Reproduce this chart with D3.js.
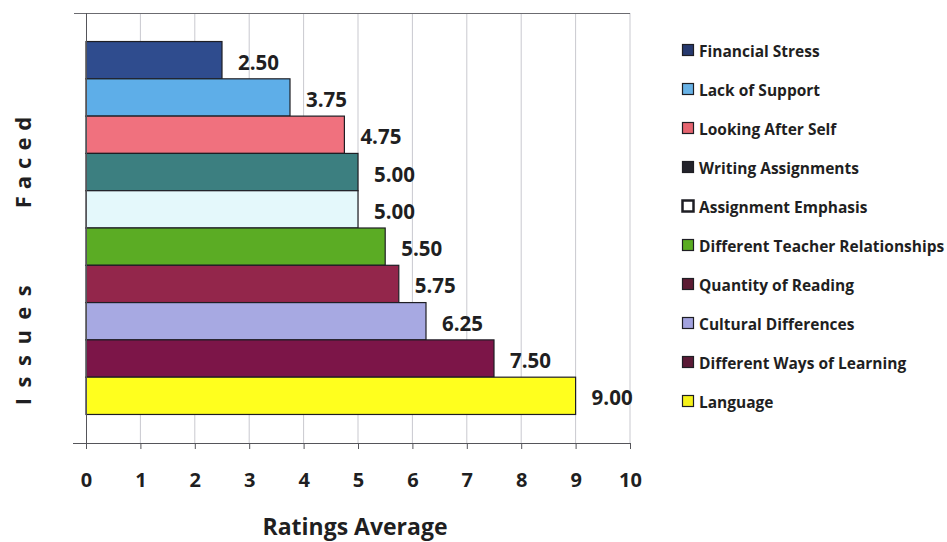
<!DOCTYPE html>
<html>
<head>
<meta charset="utf-8">
<script src="https://cdn.jsdelivr.net/npm/d3@7"></script>
<style>
  html, body { margin: 0; padding: 0; background: #fff; }
  svg { display: block; font-family: "Open Sans", Lato, sans-serif; }
</style>
</head>
<body>
<svg id="chart" width="947" height="542"></svg>
<script>
// Issues faced, ordered top to bottom as the bars are stacked
const issues = [
  "Financial Stress",
  "Lack of Support",
  "Looking After Self",
  "Writing Assignments",
  "Assignment Emphasis",
  "Different Teacher Relationships",
  "Quantity of Reading",
  "Cultural Differences",
  "Different Ways of Learning",
  "Language"
];
const ratings = [2.5, 3.75, 4.75, 5.0, 5.0, 5.5, 5.75, 6.25, 7.5, 9.0];
const barColors = [
  "#2f4c8e", "#5eaee8", "#f0717e", "#3c7f80", "#e4f8fb",
  "#5bac24", "#93264b", "#a7a9e2", "#7c1548", "#ffff1e"
];
const legendSwatch = [
  "#26396e", "#68b2e6", "#e5646f", "#23232b", "#ffffff",
  "#5aac22", "#5b1b33", "#a2a2de", "#5a1a36", "#f6f21a"
];
const xTicks = [0, 1, 2, 3, 4, 5, 6, 7, 8, 9, 10];
const xTitle = "Ratings Average";
const yTitleWords = ["Issues", "Faced"];

const svg = d3.select("#chart");
const plot = { left: 86, right: 630, top: 13, bottom: 443 };
const ink = "#1f1f22";

const x = d3.scaleLinear().domain([0, 10]).range([plot.left, plot.right]);
const y = d3.scaleBand()
  .domain(issues)
  .range([plot.top, plot.bottom])
  .paddingInner(0)
  .paddingOuter(0.765);

// vertical gridlines
svg.append("g")
  .selectAll("line")
  .data(xTicks.filter(t => t > 0))
  .join("line")
  .attr("x1", d => x(d)).attr("x2", d => x(d))
  .attr("y1", plot.top).attr("y2", plot.bottom)
  .attr("stroke", "#c9c9cf")
  .attr("stroke-width", 1);

// top boundary line with its outer tick
svg.append("line")
  .attr("x1", plot.left - 12).attr("x2", plot.right)
  .attr("y1", plot.top + 0.5).attr("y2", plot.top + 0.5)
  .attr("stroke", "#6b6b70").attr("stroke-width", 1);

// bars
svg.append("g")
  .selectAll("rect")
  .data(issues)
  .join("rect")
  .attr("x", x(0))
  .attr("y", d => y(d))
  .attr("width", (d, i) => x(ratings[i]) - x(0))
  .attr("height", y.bandwidth())
  .attr("fill", (d, i) => barColors[i])
  .attr("stroke", "#1e1e24")
  .attr("stroke-width", 1.2);

// value labels
svg.append("g")
  .selectAll("text")
  .data(issues)
  .join("text")
  .attr("x", (d, i) => x(ratings[i]) + 16)
  .attr("y", d => y(d) + y.bandwidth() / 2 + 1.5)
  .attr("dominant-baseline", "central")
  .attr("font-size", 20.5)
  .attr("font-weight", 700)
  .attr("fill", ink)
  .text((d, i) => d3.format(".2f")(ratings[i]));

// x axis
const xAxis = svg.append("g")
  .attr("transform", `translate(0,${plot.bottom})`)
  .call(d3.axisBottom(x).tickValues(xTicks).tickSize(6).tickPadding(24).tickFormat(d3.format("d")));
xAxis.select(".domain").remove();
xAxis.append("line")
  .attr("x1", plot.left - 13).attr("x2", plot.right)
  .attr("y1", 0.5).attr("y2", 0.5)
  .attr("stroke", "#55555a");
xAxis.selectAll(".tick line").attr("stroke", "#55555a");
xAxis.selectAll(".tick text")
  .attr("font-family", "'Open Sans', sans-serif")
  .attr("font-size", 20)
  .attr("font-weight", 700)
  .attr("fill", ink);

// y axis line
svg.append("line")
  .attr("x1", plot.left + 0.5).attr("x2", plot.left + 0.5)
  .attr("y1", plot.top).attr("y2", plot.bottom)
  .attr("stroke", "#55555a");

// axis titles
svg.append("text")
  .attr("x", 355).attr("y", 526)
  .attr("text-anchor", "middle")
  .attr("dominant-baseline", "central")
  .attr("font-size", 23)
  .attr("font-weight", 700)
  .attr("fill", ink)
  .text(xTitle);

// spaced-out vertical title, one word at a time
const yTitle = svg.append("text")
  .attr("transform", "translate(22,0) rotate(-90)")
  .attr("text-anchor", "middle")
  .attr("dominant-baseline", "central")
  .attr("font-size", 22)
  .attr("font-weight", 700)
  .attr("fill", ink);
yTitle.append("tspan")
  .attr("x", -340).attr("y", 0)
  .attr("letter-spacing", 10.5)
  .text(yTitleWords[0]);
yTitle.append("tspan")
  .attr("x", -159).attr("y", 0)
  .attr("letter-spacing", 7)
  .text(yTitleWords[1]);

// legend
const legend = svg.append("g").attr("transform", "translate(682,50)");
const rows = legend.selectAll("g")
  .data(issues)
  .join("g")
  .attr("transform", (d, i) => `translate(0,${i * 39})`);
rows.append("rect")
  .attr("x", 0.5).attr("y", -5.5)
  .attr("width", 11).attr("height", 11)
  .attr("fill", (d, i) => legendSwatch[i])
  .attr("stroke", "#1e1e24")
  .attr("stroke-width", (d, i) => i === 4 ? 2.5 : 1.2);
rows.append("text")
  .attr("x", 17).attr("y", 0.5)
  .attr("dominant-baseline", "central")
  .attr("font-size", 15.5)
  .attr("font-weight", 700)
  .attr("fill", ink)
  .text(d => d);
</script>
</body>
</html>
